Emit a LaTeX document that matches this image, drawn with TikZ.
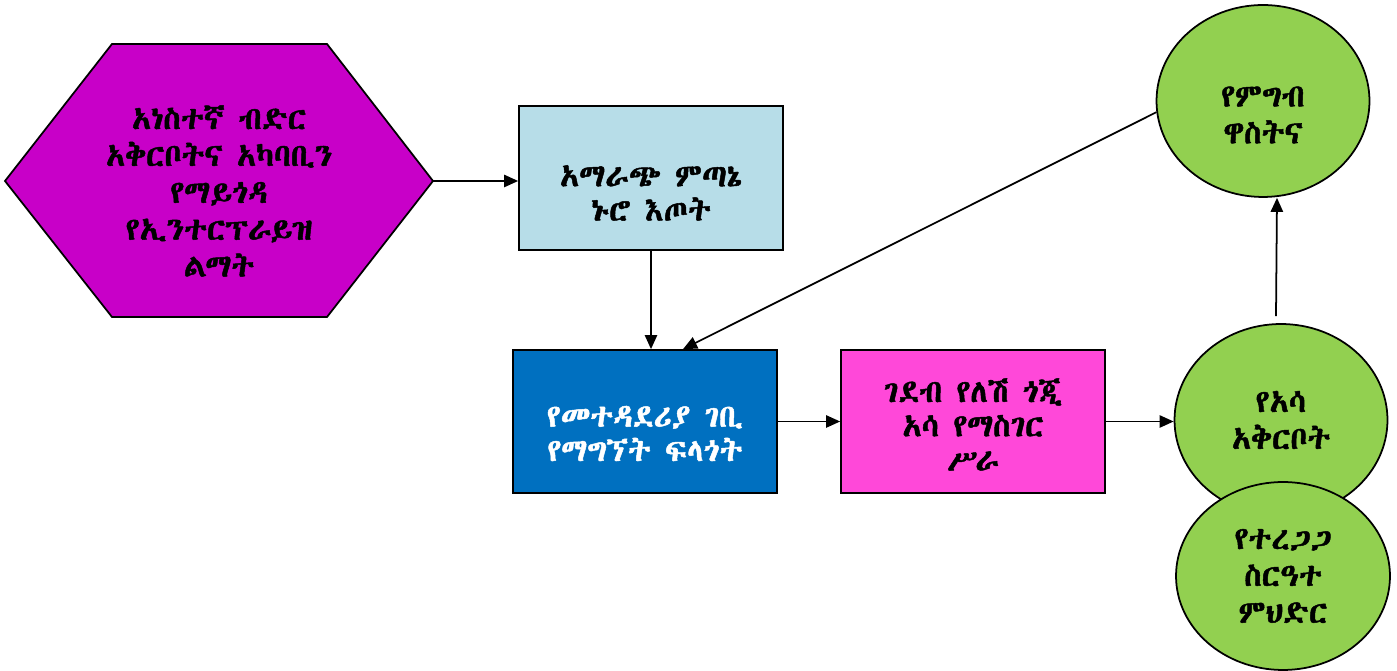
\documentclass[tikz,border=0pt]{standalone}
\usepackage{fontspec}
\usetikzlibrary{shapes.geometric,arrows.meta}
\IfFontExistsTF{FreeSerif.otf}
  {\newfontfamily\ethfont[FakeBold=1.5]{FreeSerif.otf}}
  {\IfFontExistsTF{Abyssinica SIL}
    {\newfontfamily\ethfont[FakeBold=1.5]{Abyssinica SIL}}
    {\newfontfamily\ethfont{DejaVu Sans}}}
\definecolor{hexmagenta}{HTML}{C800C8}
\definecolor{altblue}{HTML}{B7DDE8}
\definecolor{incomeblue}{HTML}{0070C0}
\definecolor{fishpink}{HTML}{FF48D9}
\definecolor{goalgreen}{HTML}{92D050}

\begin{document}
\begin{tikzpicture}[x=0.02cm, y=-0.02cm,
    % Styles
    txt/.style={font=\ethfont\fontsize{18}{21}\selectfont, align=center},
    boxtxt/.style={txt, font=\ethfont\fontsize{18}{19.5}\selectfont},
    box/.style={boxtxt, draw=black, line width=1pt, minimum width=5.28cm, minimum height=2.86cm},
    goal/.style={txt, ellipse, draw=black, line width=1pt, fill=goalgreen, minimum width=4.26cm, minimum height=3.84cm, inner sep=0pt},
    flow/.style={-{Triangle[length=8pt,width=7pt]}, line width=1pt, black},
]
\useasboundingbox (0,0) rectangle (1397,671);

% Hexagon: cause
\fill[hexmagenta, draw=black, line width=1pt] (5,181) -- (112,44) -- (327,44) -- (433,181) -- (327,317) -- (112,317) -- cycle;
\node[minimum width=8.56cm, minimum height=5.46cm,
      label={[txt, yshift=-0.2cm]center:{አነስተኛ ብድር\\አቅርቦትና አካባቢን\\የማይጎዳ\\የኢንተርፕራይዝ\\ልማት}}] (credit) at (219,181) {};

% Boxes
\node[box, fill=altblue, minimum height=2.88cm,
      label={[boxtxt, yshift=-0.3cm]center:{አማራጭ ምጣኔ\\ኑሮ እጦት}}] (alt) at (651,178) {};
\node[box, fill=incomeblue,
      label={[boxtxt, text=white, yshift=-0.24cm]center:{የመተዳደሪያ ገቢ\\የማግኘት ፍላጎት}}] (income) at (645,421.5) {};
\node[box, fill=fishpink,
      label={[boxtxt, yshift=-0.06cm]center:{ገደብ የለሽ ጎጂ\\አሳ የማስገር\\ሥራ}}] (fishing) at (973,421.5) {};

% Ellipses
\node[goal, label={[txt, yshift=-0.28cm]center:{የምግብ\\ዋስትና}}] (food) at (1263,101) {};
\node[goal] (supply) at (1281,420) {የአሳ\\አቅርቦት};
\node[goal, minimum width=4.28cm, minimum height=3.76cm] (eco) at (1283,576) {የተረጋጋ\\ስርዓተ\\ምህድር};

% Arrows
\draw[flow] (credit.east) -- (credit.east -| alt.west);
\draw[flow] (alt.south) -- (alt.south |- income.north);
\draw[flow] (income.east) -- (fishing.west);
\draw[flow] (fishing.east) -- (fishing.east -| supply.west);
\draw[flow] ([xshift=-0.1cm,yshift=0.14cm]supply.north) -- ([xshift=0.28cm]food.south);
\draw[flow] (food.186) -- ([xshift=0.76cm]income.north);

\end{tikzpicture}
\end{document}
